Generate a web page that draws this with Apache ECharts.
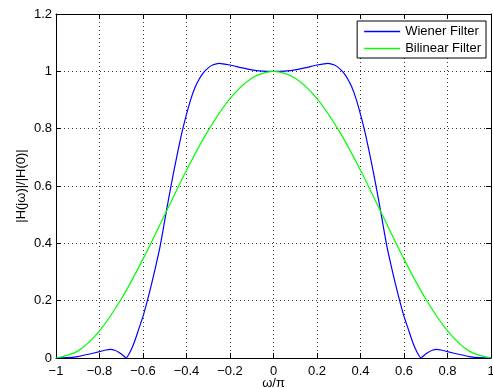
<!DOCTYPE html>
<html>
<head>
<meta charset="utf-8">
<script src="https://cdn.jsdelivr.net/npm/echarts@6/dist/echarts.min.js"></script>
<style>
  html, body { margin: 0; padding: 0; background: #fff; }
  #chart { width: 493px; height: 388px; }
</style>
</head>
<body>
<div id="chart"></div>
<script>
// normalized frequency w/pi and magnitude |H(jw)|/|H(0)|
var wienerOmega = [-1.00, -0.95, -0.90, -0.85, -0.80, -0.77, -0.75, -0.73, -0.71, -0.69, -0.678,
  -0.66, -0.64, -0.62, -0.60, -0.58, -0.56, -0.54, -0.52, -0.50, -0.48, -0.46, -0.44, -0.42,
  -0.40, -0.38, -0.36, -0.34, -0.32, -0.30, -0.28, -0.25, -0.20, -0.15, -0.10, -0.05, 0,
  0.05, 0.10, 0.15, 0.20, 0.25, 0.28, 0.30, 0.32, 0.34, 0.36, 0.38, 0.40,
  0.42, 0.44, 0.46, 0.48, 0.50, 0.52, 0.54, 0.56, 0.58, 0.60, 0.62, 0.64, 0.66,
  0.678, 0.69, 0.71, 0.73, 0.75, 0.77, 0.80, 0.85, 0.90, 0.95, 1.00];
var wienerGain = [0, 0.001, 0.005, 0.013, 0.022, 0.028, 0.030, 0.027, 0.019, 0.008, 0,
  0.02, 0.055, 0.10, 0.145, 0.20, 0.26, 0.325, 0.395, 0.48, 0.565, 0.645, 0.72, 0.79,
  0.85, 0.903, 0.945, 0.975, 0.997, 1.012, 1.022, 1.028, 1.022, 1.013, 1.005, 1.001, 1.0,
  1.001, 1.005, 1.013, 1.022, 1.028, 1.022, 1.012, 0.997, 0.975, 0.945, 0.903, 0.85,
  0.79, 0.72, 0.645, 0.565, 0.48, 0.395, 0.325, 0.26, 0.20, 0.145, 0.10, 0.055, 0.02,
  0, 0.008, 0.019, 0.027, 0.030, 0.028, 0.022, 0.013, 0.005, 0.001, 0];

var bilinearOmega = [-1.0, -0.9, -0.8, -0.7, -0.6, -0.5, -0.4, -0.3, -0.2, -0.1, 0,
  0.1, 0.2, 0.3, 0.4, 0.5, 0.6, 0.7, 0.8, 0.9, 1.0];
var bilinearGain = [0, 0.024, 0.095, 0.206, 0.345, 0.5, 0.655, 0.794, 0.905, 0.976, 1.0,
  0.976, 0.905, 0.794, 0.655, 0.5, 0.345, 0.206, 0.095, 0.024, 0];

var seriesNames = ['Wiener Filter', 'Bilinear Filter'];
var seriesColors = ['#0000ff', '#00ff00'];

function pairs(xs, ys) {
  return xs.map(function (x, i) { return [x, ys[i]]; });
}

function tickText(v) {
  var s = String(Math.round(v * 10) / 10);
  return s.replace('-', '\u2212');
}

var font = 'Liberation Sans, Arial, Helvetica, sans-serif';
var gridLine = { show: true, lineStyle: { color: '#333', type: [1, 3], width: 1 } };
var boxLine = { show: true, onZero: false, lineStyle: { color: '#000', width: 1 } };
var inTick = { show: true, inside: true, length: 5, lineStyle: { color: '#000' } };

var chart = echarts.init(document.getElementById('chart'));
chart.setOption({
  animation: false,
  backgroundColor: '#fff',
  color: seriesColors,
  textStyle: { fontFamily: font },
  grid: { left: 56, top: 14, right: 2, bottom: 30, outerBoundsMode: 'none', containLabel: false },
  legend: {
    data: seriesNames.map(function (n, i) {
      return { name: n, itemStyle: { color: seriesColors[i], borderWidth: 0 } };
    }),
    orient: 'vertical',
    right: 7,
    top: 21,
    backgroundColor: '#fff',
    borderColor: '#000',
    borderWidth: 1,
    borderRadius: 0,
    padding: [4, 5, 3, 7],
    itemGap: 4,
    itemWidth: 36,
    itemHeight: 1.5,
    icon: 'rect',
    textStyle: { fontFamily: font, fontSize: 13, color: '#000' }
  },
  xAxis: [{
    type: 'value', min: -1, max: 1, interval: 0.2,
    name: '\u03c9/\u03c0', nameLocation: 'middle', nameGap: 19, nameMoveOverlap: false,
    nameTextStyle: { fontFamily: font, fontSize: 13, color: '#000' },
    axisLine: boxLine, axisTick: inTick, splitLine: gridLine,
    axisLabel: { color: '#000', fontSize: 13, margin: 7, formatter: tickText }
  }, {
    type: 'value', min: -1, max: 1, interval: 0.2, position: 'top',
    axisLine: boxLine, axisTick: inTick, splitLine: { show: false },
    axisLabel: { show: false }
  }],
  yAxis: [{
    type: 'value', min: 0, max: 1.2, interval: 0.2,
    name: '|H(j\u03c9)|/|H(0)|', nameLocation: 'middle', nameGap: 28, nameMoveOverlap: false,
    nameTextStyle: { fontFamily: font, fontSize: 13, color: '#000' },
    axisLine: boxLine, axisTick: inTick, splitLine: gridLine,
    axisLabel: { color: '#000', fontSize: 13, margin: 4, formatter: tickText }
  }, {
    type: 'value', min: 0, max: 1.2, interval: 0.2, position: 'right',
    axisLine: boxLine, axisTick: inTick, splitLine: { show: false },
    axisLabel: { show: false }
  }],
  series: [{
    name: seriesNames[0], type: 'line', symbol: 'none', smooth: 0.2,
    itemStyle: { color: seriesColors[0] },
    lineStyle: { width: 1.2, color: seriesColors[0] },
    data: pairs(wienerOmega, wienerGain)
  }, {
    name: seriesNames[1], type: 'line', symbol: 'none', smooth: 0.3,
    itemStyle: { color: seriesColors[1] },
    lineStyle: { width: 1.2, color: seriesColors[1] },
    data: pairs(bilinearOmega, bilinearGain)
  }]
});
</script>
</body>
</html>
